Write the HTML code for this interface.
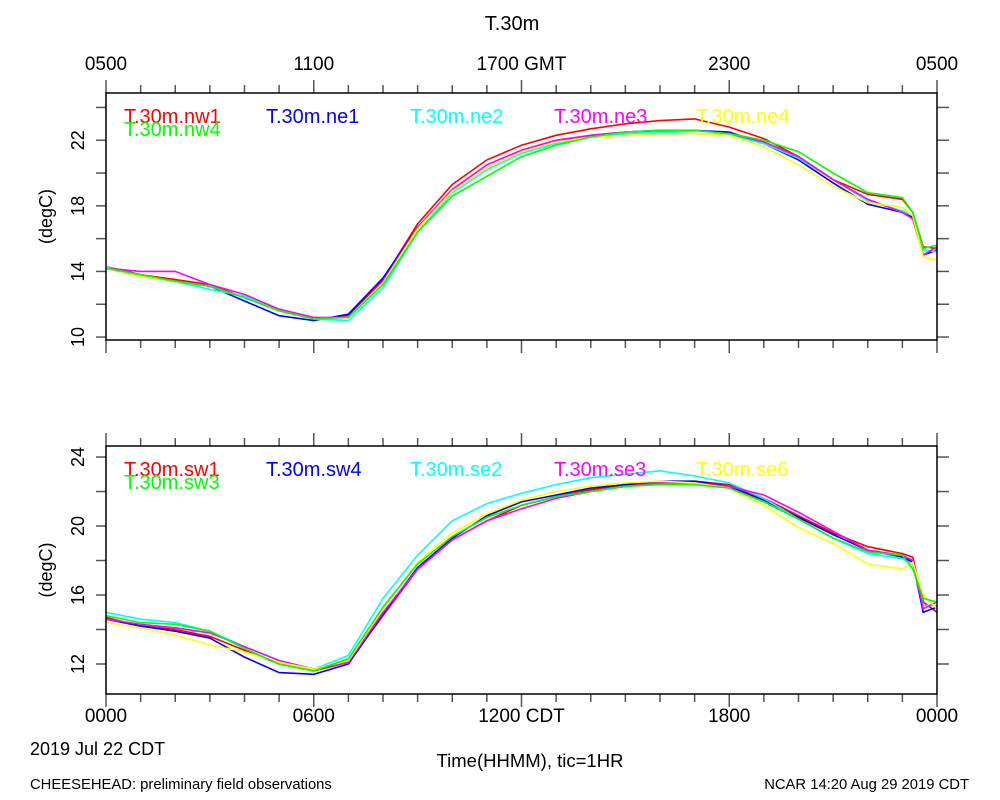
<!DOCTYPE html>
<html><head><meta charset="utf-8"><style>
body{margin:0;background:#fff}
svg{display:block;font-family:"Liberation Sans",sans-serif}
</style></head><body>
<svg id="c" width="1000" height="800"></svg>
<script>
const hours=[0,1,2,3,4,5,6,7,8,9,10,11,12,13,14,15,16,17,18,19,20,21,22,23,23.3,23.6,24];
const topNames=["T.30m.nw1","T.30m.ne1","T.30m.ne2","T.30m.ne3","T.30m.ne4","T.30m.nw4"];
const topVals=[
[14.3,13.8,13.5,13.2,12.4,11.7,11.1,11.3,13.5,16.9,19.3,20.8,21.7,22.3,22.7,23.0,23.2,23.3,22.8,22.1,21.0,19.6,18.7,18.4,17.6,15.5,15.4],
[14.2,13.7,13.4,13.1,12.2,11.3,11.0,11.4,13.6,16.7,18.9,20.3,21.3,21.9,22.3,22.5,22.6,22.6,22.5,21.8,20.8,19.4,18.1,17.6,17.3,15.0,15.3],
[14.3,13.7,13.4,12.9,12.5,11.6,11.1,11.0,13.0,16.4,18.8,20.2,21.2,21.8,22.2,22.4,22.5,22.4,22.3,21.8,20.9,19.6,18.3,17.7,17.4,15.3,15.2],
[14.2,14.0,14.0,13.2,12.6,11.7,11.2,11.2,13.4,16.7,19.0,20.5,21.4,22.0,22.3,22.5,22.6,22.6,22.4,21.9,21.0,19.6,18.4,17.6,17.2,15.0,15.5],
[14.2,13.7,13.4,13.1,12.4,11.6,11.1,11.2,13.3,16.6,18.9,20.3,21.3,21.9,22.2,22.3,22.4,22.4,22.3,21.6,20.5,19.2,18.2,17.9,17.4,14.9,14.7],
[14.2,13.8,13.4,13.1,12.4,11.6,11.1,11.2,13.2,16.4,18.6,19.8,21.0,21.7,22.2,22.5,22.6,22.6,22.4,22.0,21.3,20.0,18.8,18.5,17.6,15.4,15.6]];
const botNames=["T.30m.sw1","T.30m.sw4","T.30m.se2","T.30m.se3","T.30m.se6","T.30m.sw3"];
const botVals=[
[14.7,14.2,14.0,13.6,12.8,12.0,11.6,12.1,14.8,17.5,19.2,20.3,21.2,21.7,22.1,22.4,22.5,22.6,22.4,21.6,20.6,19.6,18.8,18.4,18.2,15.6,15.0],
[14.6,14.2,13.9,13.5,12.4,11.5,11.4,12.0,14.9,17.6,19.3,20.6,21.4,21.8,22.2,22.4,22.6,22.6,22.3,21.5,20.5,19.5,18.6,18.2,17.9,15.0,15.3],
[15.0,14.6,14.4,13.9,13.0,12.2,11.7,12.5,15.8,18.3,20.3,21.3,21.9,22.4,22.8,23.0,23.2,22.9,22.5,21.6,20.4,19.3,18.4,18.1,17.8,15.4,15.4],
[14.6,14.3,14.1,13.8,13.0,12.2,11.7,12.1,15.0,17.5,19.2,20.3,21.0,21.6,22.0,22.3,22.5,22.5,22.3,21.8,20.8,19.7,18.6,18.3,18.0,15.2,15.6],
[14.4,14.1,13.7,13.1,12.7,12.1,11.7,12.2,15.2,17.9,19.6,20.7,21.5,22.0,22.3,22.5,22.6,22.5,22.2,21.2,19.9,19.0,17.8,17.5,17.9,16.0,15.2],
[14.8,14.4,14.3,13.9,12.9,12.0,11.6,12.3,15.3,17.8,19.4,20.5,21.2,21.7,22.0,22.3,22.4,22.4,22.2,21.4,20.4,19.3,18.5,18.3,17.5,15.8,15.6]];
const colors=["#ff0000","#0000ff","#00ffff","#ff00ff","#ffff00","#00ff00"];
const topTicks=[10,14,18,22], botTicks=[12,16,20,24];
const botXLabels=["0000","0600","1200 CDT","1800","0000"];
const topXLabels=["0500","1100","1700 GMT","2300","0500"];
const NS="http://www.w3.org/2000/svg", svg=document.getElementById('c');
const L=106,R=937;
function el(t,a,p){const e=document.createElementNS(NS,t);for(const k in a)e.setAttribute(k,a[k]);(p||svg).appendChild(e);return e;}
function txt(s,x,y,sz,anch,fill,p){const e=el('text',{x:x,y:y,'font-size':sz,'text-anchor':anch||'middle',fill:fill||'#000'},p);e.textContent=s;return e;}
const xs=h=>L+(R-L)*h/24;
function panel(name,top,bot,ymin,ymax,ticks,names,vals,xl,xlY){
  const g=el('g',{});
  
  
  const ys=v=>bot-(bot-top)*(v-ymin)/(ymax-ymin);
  for(let h=0;h<=24;h++){const x=xs(h),len=(h%6==0)?13:8;
    el('line',{x1:x,y1:bot,x2:x,y2:bot+len,stroke:'#555','stroke-width':1.5},g);
    el('line',{x1:x,y1:top,x2:x,y2:top-len,stroke:'#555','stroke-width':1.5},g);}
  for(let v=Math.ceil(ymin);v<=ymax;v++){if(v%2)continue;const y=ys(v);
    el('line',{x1:L-10,y1:y,x2:L,y2:y,stroke:'#555','stroke-width':1.5},g);
    el('line',{x1:R,y1:y,x2:R+12,y2:y,stroke:'#555','stroke-width':1.5},g);}
  ticks.forEach(v=>{const y=ys(v);const t=txt(String(v),84,y,18,'middle','#000',g);
    t.setAttribute('transform','rotate(-90 84 '+y+')');
    });
  const yt=txt('(degC)',52,(top+bot)/2,18,'middle','#000',g);
  yt.setAttribute('transform','rotate(-90 52 '+(top+bot)/2+')');
  
  const clip=el('clipPath',{id:'cl'+name},g);el('rect',{x:L,y:top,width:R-L,height:bot-top},clip);
  vals.forEach((s,i)=>{const d=s.map((v,j)=>(j?'L':'M')+xs(hours[j]).toFixed(1)+','+ys(v).toFixed(1)).join('');
    const p=el('path',{d:d,fill:'none',stroke:colors[i],'stroke-width':1.6,'clip-path':'url(#cl'+name+')'},g);
    });
  el('rect',{x:L,y:top,width:R-L,height:bot-top,fill:'none',stroke:'#000','stroke-width':1.5},g);
  const lx=[124,266,410,554,696,124],ly=[top+30,top+30,top+30,top+30,top+30,top+43];
  names.forEach((n,i)=>{const t=txt(n,lx[i],ly[i],20,'start',colors[i],g);});
  xl.forEach((s,i)=>{const t=txt(s,xs(i*6),xlY,19,'middle','#000',g);});
}
panel('top-panel',93,340,9.82,24.88,topTicks,topNames,topVals,topXLabels,70);
panel('bottom-panel',446,694,10.26,24.64,botTicks,botNames,botVals,botXLabels,722);
let t;
t=txt('T.30m',512,30,20);
t=txt('2019 Jul 22 CDT',30,755,18,'start');
t=txt('Time(HHMM), tic=1HR',530,767,18.5);
t=txt('CHEESEHEAD: preliminary field observations',30,789,14.8,'start');
t=txt('NCAR 14:20 Aug 29 2019 CDT',969,789,14.8,'end');
</script>
</body></html>
